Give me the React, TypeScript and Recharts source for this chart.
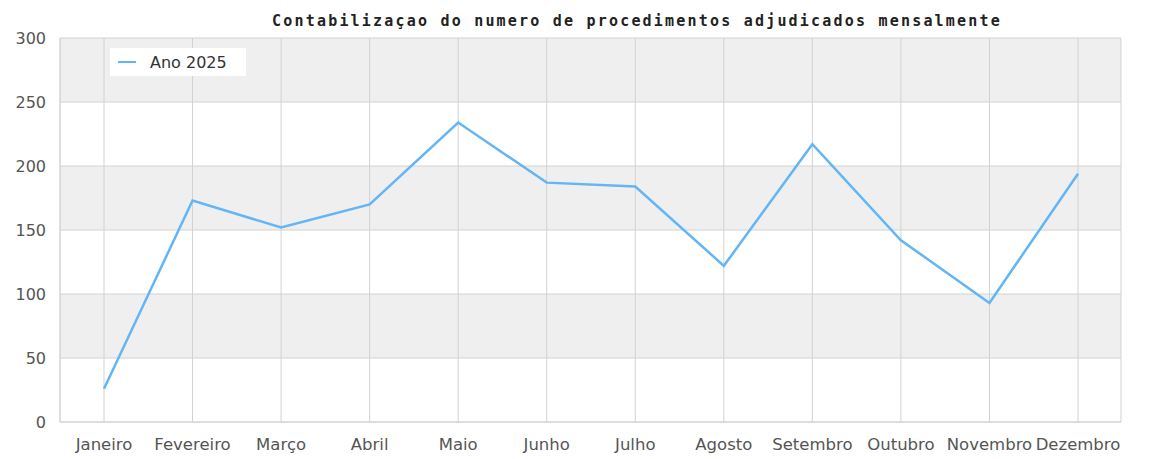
import React from 'react';
import { LineChart, Line, XAxis, YAxis, CartesianGrid } from 'recharts';

const months = ['Janeiro', 'Fevereiro', 'Março', 'Abril', 'Maio', 'Junho', 'Julho', 'Agosto', 'Setembro', 'Outubro', 'Novembro', 'Dezembro'];
const ano2025 = [26, 173, 152, 170, 234, 187, 184, 122, 217, 142, 93, 194];
const yTicks = [0, 50, 100, 150, 200, 250, 300];

const data = months.map((m, i) => ({ month: m, value: ano2025[i] }));

const GRID = '#d2d2d2';
const LINE = '#64b5f6';

const MonthTick = (props: any) => {
  const { x, y, payload } = props;
  return (
    <text x={x} y={y + 20} textAnchor="middle" fill="#555" fontSize={16.5} fontFamily="DejaVu Sans">
      {payload.value}
    </text>
  );
};

const App: React.FC = () => {
  return (
    <div style={{ position: 'relative', width: 1135, height: 451 }}>
      <div
        style={{
          position: 'absolute',
          left: 0,
          width: 1258,
          top: 4,
          textAlign: 'center',
          fontFamily: 'DejaVu Sans Mono',
          fontWeight: 'bold',
          fontSize: 15,
          letterSpacing: 2.2,
          color: '#222',
        }}
      >
        Contabilizaçao do numero de procedimentos adjudicados mensalmente
      </div>
      <div
        style={{
          position: 'absolute',
          left: 102,
          top: 40,
          width: 136,
          height: 28,
          background: '#fff',
          display: 'flex',
          alignItems: 'center',
          fontFamily: 'DejaVu Sans',
          fontSize: 16,
          color: '#333',
          zIndex: 2,
        }}
      >
        <span style={{ display: 'inline-block', width: 18, height: 2, background: LINE, marginLeft: 8, marginRight: 14 }} />
        Ano 2025
      </div>
      <LineChart width={1130} height={451} data={data} margin={{ top: 30, right: 17, left: 0, bottom: 0 }}>
        <CartesianGrid stroke={GRID} horizontalFill={['#efefef', '#ffffff']} />
        <XAxis
          dataKey="month"
          height={37}
          axisLine={{ stroke: GRID }}
          tickLine={false}
          tick={<MonthTick />}
          interval={0}
          padding={{ left: 44, right: 43 }}
        />
        <YAxis
          domain={[0, 300]}
          ticks={yTicks}
          width={52}
          axisLine={{ stroke: GRID }}
          tickLine={false}
          tick={{ fill: '#555', fontSize: 16, fontFamily: 'DejaVu Sans' }}
          tickMargin={8}
        />
        <YAxis yAxisId="r" orientation="right" width={0} tick={false} axisLine={{ stroke: GRID }} tickLine={false} />
        <Line type="linear" dataKey="value" stroke={LINE} strokeWidth={2.5} dot={false} isAnimationActive={false} />
      </LineChart>
    </div>
  );
};

export default App;
